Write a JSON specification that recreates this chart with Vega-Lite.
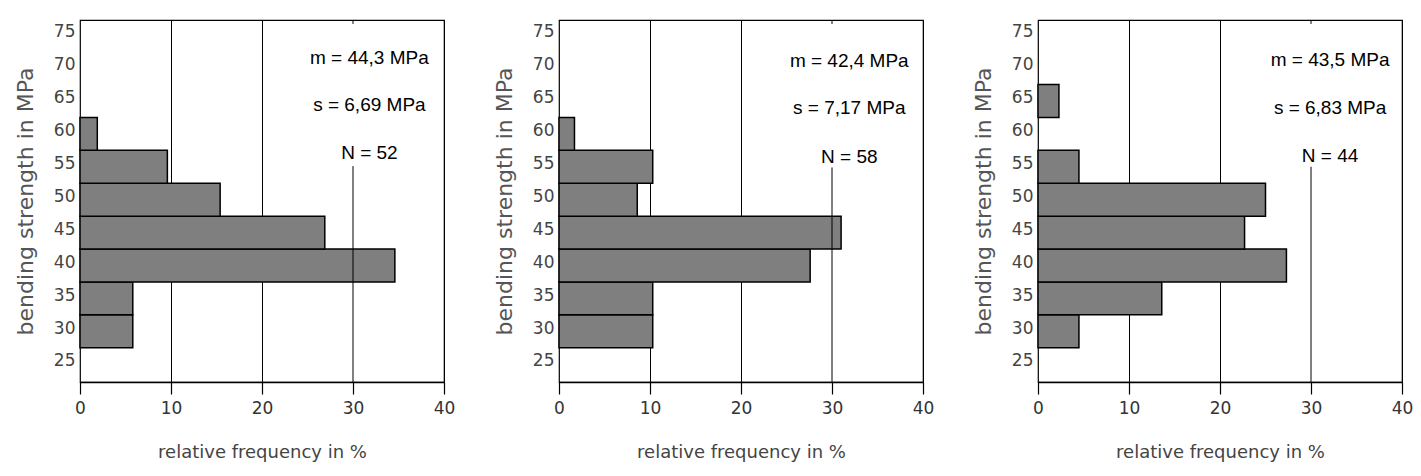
{
  "$schema": "https://vega.github.io/schema/vega-lite/v6.json",
  "background": "white",
  "padding": {"left": 13, "top": 18, "right": 5, "bottom": 5},
  "spacing": 115,
  "bounds": "flush",
  "config": {
    "view": {"stroke": "black", "strokeWidth": 1.2},
    "axisX": {
      "domain": true, "domainColor": "black", "domainWidth": 1.5,
      "ticks": true, "tickColor": "black", "tickSize": 12, "tickWidth": 1.2,
      "grid": true, "gridWidth": 1, "gridOpacity": 1,
      "gridColor": {"condition": {"test": "datum.value === 30 || datum.value === 0", "value": "transparent"}, "value": "black"},
      "zindex": 1, "labelOverlap": false, "labelFlush": false,
      "labelFont": "DejaVu Sans", "labelFontSize": 17, "labelColor": "#333", "labelPadding": 6,
      "titleFont": "DejaVu Sans", "titleFontSize": 18, "titleFontWeight": "normal", "titleColor": "#444", "titlePadding": 27
    },
    "axisY": {
      "domain": false, "ticks": false, "grid": false, "labelOverlap": false, "labelFlush": false,
      "labelFont": "DejaVu Sans", "labelFontSize": 17, "labelColor": "#444", "labelPadding": 5,
      "titleFont": "DejaVu Sans", "titleFontSize": 22, "titleFontWeight": "normal", "titleColor": "#555", "titlePadding": 16
    },
    "text": {"font": "Liberation Sans", "fontSize": 19, "align": "center", "baseline": "middle", "color": "black"}
  },
  "datasets": {
    "bins": [
      {"panel": 1, "lo": 27, "hi": 32, "freq": 5.8},
      {"panel": 1, "lo": 32, "hi": 37, "freq": 5.8},
      {"panel": 1, "lo": 37, "hi": 42, "freq": 34.6},
      {"panel": 1, "lo": 42, "hi": 47, "freq": 26.9},
      {"panel": 1, "lo": 47, "hi": 52, "freq": 15.4},
      {"panel": 1, "lo": 52, "hi": 57, "freq": 9.6},
      {"panel": 1, "lo": 57, "hi": 62, "freq": 1.9},
      {"panel": 2, "lo": 27, "hi": 32, "freq": 10.3},
      {"panel": 2, "lo": 32, "hi": 37, "freq": 10.3},
      {"panel": 2, "lo": 37, "hi": 42, "freq": 27.6},
      {"panel": 2, "lo": 42, "hi": 47, "freq": 31.0},
      {"panel": 2, "lo": 47, "hi": 52, "freq": 8.6},
      {"panel": 2, "lo": 52, "hi": 57, "freq": 10.3},
      {"panel": 2, "lo": 57, "hi": 62, "freq": 1.7},
      {"panel": 3, "lo": 27, "hi": 32, "freq": 4.5},
      {"panel": 3, "lo": 32, "hi": 37, "freq": 13.6},
      {"panel": 3, "lo": 37, "hi": 42, "freq": 27.3},
      {"panel": 3, "lo": 42, "hi": 47, "freq": 22.7},
      {"panel": 3, "lo": 47, "hi": 52, "freq": 25.0},
      {"panel": 3, "lo": 52, "hi": 57, "freq": 4.5},
      {"panel": 3, "lo": 62, "hi": 67, "freq": 2.3}
    ],
    "stats": [
      {"panel": 1, "m": "m = 44,3 MPa", "s": "s = 6,69 MPa", "n": "N = 52"},
      {"panel": 2, "m": "m = 42,4 MPa", "s": "s = 7,17 MPa", "n": "N = 58"},
      {"panel": 3, "m": "m = 43,5 MPa", "s": "s = 6,83 MPa", "n": "N = 44"}
    ],
    "one": [{"k": 1}]
  },
  "hconcat": [
    {
      "width": 364, "height": 362,
      "layer": [
        {
          "data": {"name": "bins"},
          "transform": [{"filter": "datum.panel == 1"}],
          "mark": {"type": "rect", "fill": "#7f7f7f", "stroke": "black", "strokeWidth": 1.5},
          "encoding": {
            "x": {"field": "freq", "type": "quantitative", "scale": {"domain": [0, 40], "nice": false}, "axis": {"title": "relative frequency in %", "values": [0, 10, 20, 30, 40], "labelOverlap": false}},
            "x2": {"datum": 0},
            "y": {"field": "lo", "type": "quantitative", "scale": {"domain": [21.8, 76.8], "nice": false, "zero": false}, "axis": {"title": "bending strength in MPa", "values": [25, 30, 35, 40, 45, 50, 55, 60, 65, 70, 75], "labelOverlap": false, "tickCount": 11}},
            "y2": {"field": "hi"}
          }
        },
        {
          "data": {"name": "one"},
          "mark": {"type": "rule", "color": "black", "strokeWidth": 1},
          "encoding": {"x": {"datum": 30}, "y": {"datum": 21.8}, "y2": {"datum": 54.6}}
        },
        {
          "data": {"name": "one"},
          "mark": {"type": "rule", "color": "black", "strokeWidth": 1},
          "encoding": {"x": {"datum": 30}, "y": {"datum": 76.2}, "y2": {"datum": 76.8}}
        },
        {
          "data": {"name": "stats"},
          "transform": [{"filter": "datum.panel == 1"}],
          "layer": [
            {"mark": {"type": "text"}, "encoding": {"x": {"datum": 31.8}, "y": {"datum": 71}, "text": {"field": "m"}}},
            {"mark": {"type": "text"}, "encoding": {"x": {"datum": 31.8}, "y": {"datum": 63.9}, "text": {"field": "s"}}},
            {"mark": {"type": "text"}, "encoding": {"x": {"datum": 31.8}, "y": {"datum": 56.6}, "text": {"field": "n"}}}
          ]
        }
      ]
    },
    {
      "width": 364, "height": 362,
      "layer": [
        {
          "data": {"name": "bins"},
          "transform": [{"filter": "datum.panel == 2"}],
          "mark": {"type": "rect", "fill": "#7f7f7f", "stroke": "black", "strokeWidth": 1.5},
          "encoding": {
            "x": {"field": "freq", "type": "quantitative", "scale": {"domain": [0, 40], "nice": false}, "axis": {"title": "relative frequency in %", "values": [0, 10, 20, 30, 40], "labelOverlap": false}},
            "x2": {"datum": 0},
            "y": {"field": "lo", "type": "quantitative", "scale": {"domain": [21.8, 76.8], "nice": false, "zero": false}, "axis": {"title": "bending strength in MPa", "values": [25, 30, 35, 40, 45, 50, 55, 60, 65, 70, 75], "labelOverlap": false, "tickCount": 11}},
            "y2": {"field": "hi"}
          }
        },
        {
          "data": {"name": "one"},
          "mark": {"type": "rule", "color": "black", "strokeWidth": 1},
          "encoding": {"x": {"datum": 30}, "y": {"datum": 21.8}, "y2": {"datum": 54.4}}
        },
        {
          "data": {"name": "one"},
          "mark": {"type": "rule", "color": "black", "strokeWidth": 1},
          "encoding": {"x": {"datum": 30}, "y": {"datum": 76.2}, "y2": {"datum": 76.8}}
        },
        {
          "data": {"name": "stats"},
          "transform": [{"filter": "datum.panel == 2"}],
          "layer": [
            {"mark": {"type": "text"}, "encoding": {"x": {"datum": 31.9}, "y": {"datum": 70.6}, "text": {"field": "m"}}},
            {"mark": {"type": "text"}, "encoding": {"x": {"datum": 31.9}, "y": {"datum": 63.4}, "text": {"field": "s"}}},
            {"mark": {"type": "text"}, "encoding": {"x": {"datum": 31.9}, "y": {"datum": 56.0}, "text": {"field": "n"}}}
          ]
        }
      ]
    },
    {
      "width": 364, "height": 362,
      "layer": [
        {
          "data": {"name": "bins"},
          "transform": [{"filter": "datum.panel == 3"}],
          "mark": {"type": "rect", "fill": "#7f7f7f", "stroke": "black", "strokeWidth": 1.5},
          "encoding": {
            "x": {"field": "freq", "type": "quantitative", "scale": {"domain": [0, 40], "nice": false}, "axis": {"title": "relative frequency in %", "values": [0, 10, 20, 30, 40], "labelOverlap": false}},
            "x2": {"datum": 0},
            "y": {"field": "lo", "type": "quantitative", "scale": {"domain": [21.8, 76.8], "nice": false, "zero": false}, "axis": {"title": "bending strength in MPa", "values": [25, 30, 35, 40, 45, 50, 55, 60, 65, 70, 75], "labelOverlap": false, "tickCount": 11}},
            "y2": {"field": "hi"}
          }
        },
        {
          "data": {"name": "one"},
          "mark": {"type": "rule", "color": "black", "strokeWidth": 1},
          "encoding": {"x": {"datum": 30}, "y": {"datum": 21.8}, "y2": {"datum": 54.5}}
        },
        {
          "data": {"name": "one"},
          "mark": {"type": "rule", "color": "black", "strokeWidth": 1},
          "encoding": {"x": {"datum": 30}, "y": {"datum": 76.2}, "y2": {"datum": 76.8}}
        },
        {
          "data": {"name": "stats"},
          "transform": [{"filter": "datum.panel == 3"}],
          "layer": [
            {"mark": {"type": "text"}, "encoding": {"x": {"datum": 32.1}, "y": {"datum": 70.7}, "text": {"field": "m"}}},
            {"mark": {"type": "text"}, "encoding": {"x": {"datum": 32.1}, "y": {"datum": 63.4}, "text": {"field": "s"}}},
            {"mark": {"type": "text"}, "encoding": {"x": {"datum": 32.1}, "y": {"datum": 56.1}, "text": {"field": "n"}}}
          ]
        }
      ]
    }
  ]
}
